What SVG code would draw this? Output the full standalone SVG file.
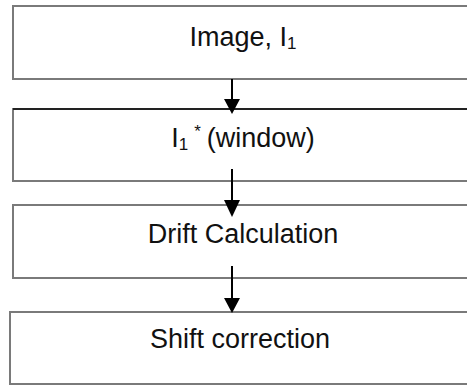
<svg xmlns="http://www.w3.org/2000/svg" width="467" height="385" viewBox="0 0 467 385">
  <style>
    .box { fill: #ffffff; stroke: #7a7a7a; stroke-width: 2; }
    .lbl { font-family: "Liberation Sans", Arial, sans-serif; font-size: 27px; fill: #111111; text-anchor: middle; }
    .sub { font-size: 17px; }
    .wire { stroke: #000000; stroke-width: 2; fill: none; }
    .head { fill: #000000; }
  </style>
  <rect width="467" height="385" fill="#ffffff"/>

  <g id="node-image">
    <rect class="box" x="13" y="6" width="462" height="73"/>
    <text class="lbl" x="243" y="46">Image, I<tspan class="sub" dy="3">1</tspan></text>
  </g>

  <g id="node-window">
    <rect class="box" x="13" y="109" width="462" height="72"/>
    <line x1="13" y1="109" x2="467" y2="109" stroke="#222222" stroke-width="2"/>
    <text class="lbl" x="243" y="147">I<tspan class="sub" dy="3">1</tspan><tspan class="sub" dx="6" dy="-13">*</tspan><tspan dx="6" dy="10">(window)</tspan></text>
  </g>

  <g id="node-drift">
    <rect class="box" x="13" y="205" width="462" height="73"/>
    <text class="lbl" x="243" y="243">Drift Calculation</text>
  </g>

  <g id="node-shift">
    <rect class="box" x="10" y="312" width="465" height="72"/>
    <text class="lbl" x="240" y="348">Shift correction</text>
  </g>

  <g id="connectors">
    <line class="wire" x1="232" y1="79" x2="232" y2="100"/>
    <polygon class="head" points="224,99 240,99 232,114"/>
    <line class="wire" x1="232" y1="169" x2="232" y2="201"/>
    <polygon class="head" points="224,200 240,200 232,217"/>
    <line class="wire" x1="232" y1="266" x2="232" y2="299"/>
    <polygon class="head" points="224,298 240,298 232,313"/>
  </g>
</svg>
